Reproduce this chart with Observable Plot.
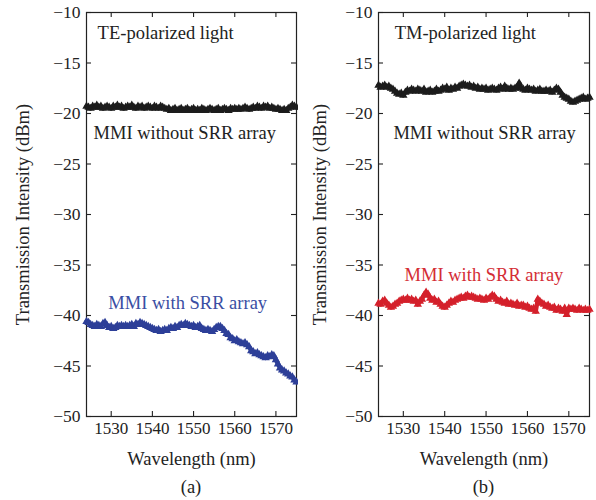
<!DOCTYPE html>
<html>
<head>
<meta charset="utf-8">
<script src="https://cdn.jsdelivr.net/npm/d3@7"></script>
<script src="https://cdn.jsdelivr.net/npm/@observablehq/plot@0.6"></script>
<style>
  body { margin: 0; background: #fff; }
  #wrap { width: 596px; height: 500px; font-family: "Liberation Serif", "Times New Roman", serif; }
  .row { display: flex; }
  .cap { height: 25px; line-height: 25px; font-size: 18.5px; text-align: center; box-sizing: border-box; color: #222; }
</style>
</head>
<body>
<div id="wrap">
  <div class="row" id="plots"></div>
  <div class="row">
    <div class="cap" style="width:298px;padding-left:86px;padding-right:2px">(a)</div>
    <div class="cap" style="width:298px;padding-left:80px;padding-right:7px">(b)</div>
  </div>
</div>
<script>
const wavelength = [
  1524,1524.5,1525,1525.5,1526,1526.5,1527,1527.5,1528,1528.5,
  1529,1529.5,1530,1530.5,1531,1531.5,1532,1532.5,1533,1533.5,
  1534,1534.5,1535,1535.5,1536,1536.5,1537,1537.5,1538,1538.5,
  1539,1539.5,1540,1540.5,1541,1541.5,1542,1542.5,1543,1543.5,
  1544,1544.5,1545,1545.5,1546,1546.5,1547,1547.5,1548,1548.5,
  1549,1549.5,1550,1550.5,1551,1551.5,1552,1552.5,1553,1553.5,
  1554,1554.5,1555,1555.5,1556,1556.5,1557,1557.5,1558,1558.5,
  1559,1559.5,1560,1560.5,1561,1561.5,1562,1562.5,1563,1563.5,
  1564,1564.5,1565,1565.5,1566,1566.5,1567,1567.5,1568,1568.5,
  1569,1569.5,1570,1570.5,1571,1571.5,1572,1572.5,1573,1573.5,
  1574,1574.5,1575
];

// (a) TE-polarized light
const teWithout = [
  -19.3,-19.4,-19.5,-19.3,-19.4,-19.2,-19.4,-19.3,-19.5,-19.4,
  -19.3,-19.4,-19.5,-19.3,-19.4,-19.2,-19.4,-19.3,-19.5,-19.4,
  -19.3,-19.4,-19.2,-19.4,-19.5,-19.3,-19.4,-19.3,-19.5,-19.4,
  -19.3,-19.4,-19.5,-19.3,-19.4,-19.5,-19.3,-19.4,-19.5,-19.6,
  -19.5,-19.7,-19.6,-19.5,-19.7,-19.6,-19.5,-19.7,-19.6,-19.5,
  -19.7,-19.6,-19.5,-19.7,-19.6,-19.7,-19.5,-19.6,-19.7,-19.6,
  -19.5,-19.6,-19.7,-19.6,-19.5,-19.7,-19.6,-19.5,-19.6,-19.7,
  -19.5,-19.6,-19.5,-19.6,-19.5,-19.6,-19.5,-19.4,-19.5,-19.6,
  -19.5,-19.4,-19.5,-19.3,-19.4,-19.5,-19.3,-19.4,-19.3,-19.5,
  -19.4,-19.5,-19.6,-19.5,-19.6,-19.7,-19.6,-19.7,-19.5,-19.4,
  -19.2,-19.3,-19.4
];
const teWith = [
  -40.6,-40.7,-40.9,-41.0,-41.1,-40.9,-41.0,-41.1,-40.8,-40.7,
  -41.0,-41.2,-41.1,-41.3,-41.2,-41.0,-41.1,-41.0,-41.1,-41.0,
  -41.1,-41.0,-40.9,-41.1,-40.8,-40.9,-40.7,-40.8,-40.9,-41.0,
  -41.1,-41.2,-41.3,-41.4,-41.5,-41.4,-41.6,-41.5,-41.4,-41.5,
  -41.3,-41.2,-41.3,-41.1,-41.2,-41.0,-40.9,-41.0,-40.8,-40.9,
  -41.0,-41.1,-41.0,-41.2,-41.1,-41.0,-41.3,-41.4,-41.5,-41.4,
  -41.5,-41.6,-41.4,-41.2,-41.1,-41.1,-41.3,-41.5,-41.8,-41.9,
  -42.2,-42.3,-42.5,-42.4,-42.6,-42.7,-42.8,-42.7,-42.9,-43.1,
  -43.5,-43.6,-43.8,-43.7,-43.9,-44.0,-44.1,-44.2,-44.0,-44.1,
  -43.9,-44.0,-44.4,-44.8,-45.2,-45.4,-45.5,-45.7,-45.8,-46.0,
  -46.1,-46.4,-46.6
];

// (b) TM-polarized light
const tmWithout = [
  -17.2,-17.4,-17.3,-17.2,-17.4,-17.3,-17.5,-17.6,-17.8,-18.0,
  -18.1,-18.0,-18.2,-17.9,-17.7,-17.8,-17.6,-17.7,-17.8,-17.6,
  -17.7,-17.8,-17.6,-17.9,-17.8,-17.7,-17.9,-17.8,-17.6,-17.8,
  -17.7,-17.5,-17.6,-17.4,-17.7,-17.5,-17.6,-17.4,-17.5,-17.3,
  -17.2,-17.1,-17.2,-17.3,-17.2,-17.4,-17.3,-17.5,-17.4,-17.6,
  -17.5,-17.6,-17.5,-17.7,-17.6,-17.5,-17.6,-17.7,-17.5,-17.4,
  -17.6,-17.3,-17.5,-17.6,-17.5,-17.6,-17.5,-17.4,-17.0,-17.5,
  -17.6,-17.7,-17.5,-17.6,-17.7,-17.6,-17.8,-17.7,-17.6,-17.8,
  -17.8,-17.7,-17.8,-17.7,-17.9,-17.7,-17.5,-17.6,-17.9,-18.2,
  -18.4,-18.5,-18.6,-18.8,-18.9,-18.8,-18.7,-18.6,-18.5,-18.4,
  -18.6,-18.5,-18.4
];
const tmWith = [
  -38.8,-38.9,-38.6,-38.5,-38.8,-39.0,-39.2,-39.1,-38.9,-38.8,
  -38.6,-38.5,-38.4,-38.5,-38.3,-38.5,-38.4,-38.6,-38.5,-38.9,
  -38.6,-38.4,-38.0,-37.7,-37.9,-38.3,-38.5,-38.4,-38.7,-38.6,
  -38.9,-39.1,-39.2,-39.0,-38.8,-38.6,-38.7,-38.5,-38.4,-38.3,
  -38.2,-38.3,-38.1,-38.0,-38.2,-38.1,-38.2,-38.3,-38.4,-38.3,
  -38.4,-38.5,-38.3,-38.4,-38.2,-38.0,-38.1,-38.4,-38.6,-38.5,
  -38.7,-38.8,-38.6,-38.9,-38.8,-38.9,-39.0,-38.8,-39.1,-39.0,
  -39.0,-39.2,-39.1,-39.3,-39.4,-39.3,-39.6,-38.4,-38.6,-38.8,
  -38.9,-39.1,-39.0,-39.2,-39.3,-39.2,-39.5,-39.3,-39.4,-39.6,
  -39.3,-39.9,-39.3,-39.4,-39.3,-39.4,-39.5,-39.3,-39.4,-39.5,
  -39.4,-39.5,-39.4
];

const xTicks = [1530, 1540, 1550, 1560, 1570];
const yTicks = [-10, -15, -20, -25, -30, -35, -40, -45, -50];
const panelTitles = ["TE-polarized light", "TM-polarized light"];
const seriesLabels = ["MMI without SRR array", "MMI with SRR array"];
const xLabel = "Wavelength (nm)";
const yLabel = "Transmission Intensity (dBm)";

const toRows = arr => wavelength.map((w, i) => ({w, v: arr[i]}));

function panel({upper, lower, lowerColor, lowerText, title, ml, mr, yLabelOffset, pos}) {
  const W = 298, H = 475, MT = 12, MB = 59;
  const innerW = W - ml - mr, innerH = H - MT - MB, T = 5;
  const series = (rows, color) => [
    Plot.line(rows, {x: "w", y: "v", stroke: color, strokeWidth: 4.4}),
    Plot.dot(rows, {x: "w", y: "v", symbol: "triangle", r: 3.1, fill: color, stroke: "none"})
  ];
  const ink = "#222";
  return Plot.plot({
    width: W, height: H,
    marginLeft: ml, marginRight: mr, marginTop: MT, marginBottom: MB,
    x: {domain: [1524, 1575]},
    y: {domain: [-50, -10]},
    style: {fontFamily: '"Liberation Serif", "Times New Roman", serif', fontSize: "17px", color: ink, background: "#fff"},
    marks: [
      Plot.frame({stroke: ink, strokeWidth: 1.2}),
      // inward ticks on all four sides
      Plot.tickX(xTicks, {stroke: ink, strokeWidth: 1.1, insetTop: innerH - T}),
      Plot.tickX(xTicks, {stroke: ink, strokeWidth: 1.1, insetBottom: innerH - T}),
      Plot.tickY(yTicks, {stroke: ink, strokeWidth: 1.1, insetRight: innerW - T}),
      Plot.tickY(yTicks, {stroke: ink, strokeWidth: 1.1, insetLeft: innerW - T}),
      Plot.axisX(xTicks, {anchor: "bottom", tickSize: 0, tickPadding: 5, tickFormat: d3.format("d"), label: null, fontSize: 17}),
      Plot.axisY(yTicks, {anchor: "left", tickSize: 0, tickPadding: 6, label: null, fontSize: 17.5}),
      Plot.text([xLabel], {frameAnchor: "bottom", textAnchor: "middle", lineAnchor: "middle", dy: 43, fontSize: 18.5, fill: ink}),
      Plot.text([yLabel], {frameAnchor: "left", textAnchor: "middle", lineAnchor: "middle", rotate: -90, dx: -yLabelOffset, fontSize: 18.5, fill: ink}),
      ...series(toRows(upper), "#1c1c1c"),
      ...series(toRows(lower), lowerColor),
      Plot.text([title], {x: pos.titleX, y: -12.08, textAnchor: "start", fontSize: 18.5, fill: ink}),
      Plot.text([seriesLabels[0]], {x: pos.upperX, y: -21.98, textAnchor: "start", fontSize: 18.5, fill: ink}),
      Plot.text([seriesLabels[1]], {x: pos.lowerX, y: pos.lowerY, textAnchor: "start", fontSize: 18.5, fill: lowerText})
    ]
  });
}

const plots = document.getElementById("plots");
plots.append(panel({
  upper: teWithout, lower: teWith, lowerColor: "#2d3f98", lowerText: "#3a4ea3",
  title: panelTitles[0], ml: 86, mr: 2, yLabelOffset: 63.5,
  pos: {titleX: 1526.7, upperX: 1525.7, lowerX: 1529.3, lowerY: -38.8}
}));
plots.append(panel({
  upper: tmWithout, lower: tmWith, lowerColor: "#d4202b", lowerText: "#d42d35",
  title: panelTitles[1], ml: 80, mr: 7, yLabelOffset: 58,
  pos: {titleX: 1527.9, upperX: 1527.6, lowerX: 1530.3, lowerY: -36.04}
}));
</script>
</body>
</html>
